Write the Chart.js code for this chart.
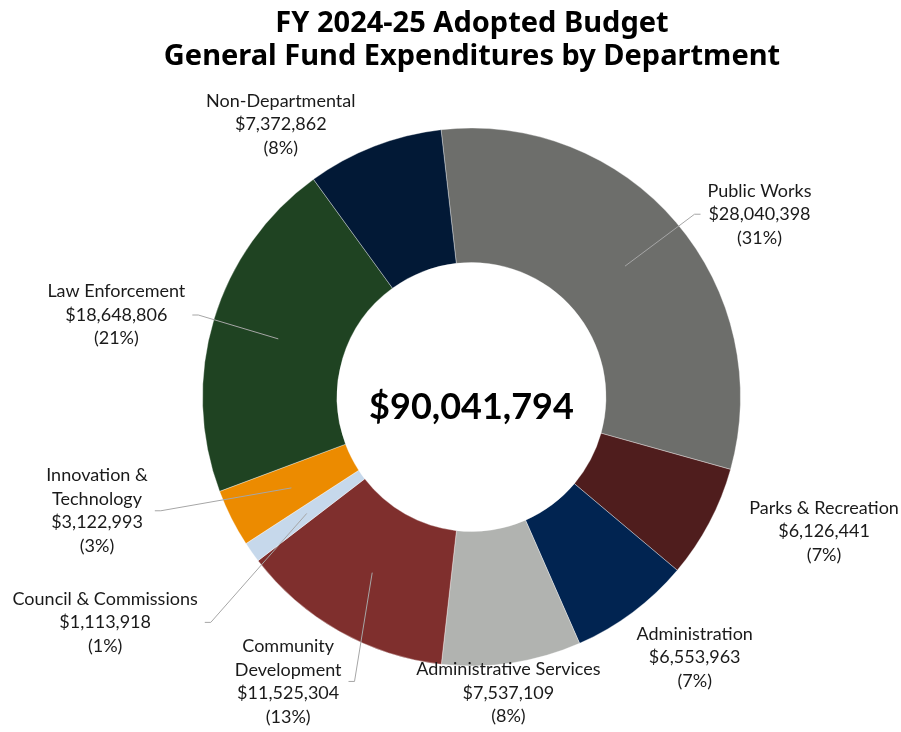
<!DOCTYPE html>
<html>
<head>
<meta charset="utf-8">
<script src="https://cdn.jsdelivr.net/npm/chart.js@4.4.1/dist/chart.umd.min.js"></script>
<style>
  html, body { margin: 0; padding: 0; background: #ffffff; }
  #wrap { width: 901px; height: 732px; position: relative; }
</style>
</head>
<body>
<div id="wrap"><canvas id="budget-chart" width="901" height="732"></canvas></div>
<script>
// chart data, clockwise from the top
const departments = [
  ["Public Works"],
  ["Parks & Recreation"],
  ["Administration"],
  ["Administrative Services"],
  ["Community", "Development"],
  ["Council & Commissions"],
  ["Innovation &", "Technology"],
  ["Law Enforcement"],
  ["Non-Departmental"]
];
const expenditures = [28040398, 6126441, 6553963, 7537109, 11525304, 1113918, 3122993, 18648806, 7372862];
const titleLines = ["FY 2024-25 Adopted Budget", "General Fund Expenditures by Department"];

// styling
const sliceColors = ["#6d6e6b", "#4f1d1d", "#012451", "#b1b3b0", "#7f2f2d", "#c6d8eb", "#ec8b00", "#1f4322", "#021936"];
// label placement: angle clockwise from top (deg) and distance as a multiple of the outer radius
const labelAngle = [57.6, 110.9, 139.4, 172.9, 212.8, 238.4, 253.1, 283.0, 325.0];
const labelDist = [1.268, 1.403, 1.275, 1.109, 1.258, 1.599, 1.455, 1.355, 1.236];
const hasLeader = [true, false, false, false, true, true, true, true, false];

const labelFont = "18px Lato";
const lineHeight = 23.5;

const total = expenditures.reduce((a, b) => a + b, 0);

function formatMoney(value) {
  return "$" + value.toLocaleString("en-US");
}

const sliceLabels = {
  id: "sliceLabels",
  afterDatasetsDraw(chart) {
    const ctx = chart.ctx;
    const arcs = chart.getDatasetMeta(0).data;
    ctx.save();

    // title
    ctx.fillStyle = "#000000";
    ctx.textAlign = "center";
    ctx.textBaseline = "alphabetic";
    ctx.font = "bold 29px 'Noto Sans'";
    ctx.fillText(titleLines[0], 472, 32);
    ctx.fillText(titleLines[1], 472, 65);

    arcs.forEach((arc, i) => {
      const p = arc.getProps(["x", "y", "startAngle", "endAngle", "innerRadius", "outerRadius"], true);
      const ang = (labelAngle[i] - 90) * Math.PI / 180;
      const px = p.x + Math.cos(ang) * p.outerRadius * labelDist[i];
      const py = p.y + Math.sin(ang) * p.outerRadius * labelDist[i];

      const pct = Math.round(expenditures[i] / total * 100);
      const lines = departments[i].concat([formatMoney(expenditures[i]), "(" + pct + "%)"]);

      ctx.font = labelFont;
      const blockWidth = Math.max(...lines.map((t) => ctx.measureText(t).width));

      if (hasLeader[i]) {
        const mid = (p.startAngle + p.endAngle) / 2;
        const rm = (p.innerRadius + p.outerRadius) / 2;
        const sx = p.x + Math.cos(mid) * rm;
        const sy = p.y + Math.sin(mid) * rm;
        const toRight = px > p.x;
        const ex = toRight ? px - blockWidth / 2 - 7 : px + blockWidth / 2 + 7;
        const kx = toRight ? ex - 6 : ex + 6;
        ctx.strokeStyle = "#a6a6a6";
        ctx.lineWidth = 1;
        ctx.beginPath();
        ctx.moveTo(sx, sy);
        ctx.lineTo(kx, py);
        ctx.lineTo(ex, py);
        ctx.stroke();
      }

      ctx.fillStyle = "#1a1a1a";
      ctx.textAlign = "center";
      ctx.textBaseline = "middle";
      lines.forEach((t, k) => {
        ctx.fillText(t, px, py + (k - (lines.length - 1) / 2) * lineHeight);
      });
    });

    // total in the hole
    const c = arcs[0];
    ctx.fillStyle = "#000000";
    ctx.font = "bold 36px Lato";
    ctx.textAlign = "center";
    ctx.textBaseline = "alphabetic";
    ctx.fillText(formatMoney(total), c.x, c.y + 22);

    ctx.restore();
  }
};

const chart = new Chart(document.getElementById("budget-chart").getContext("2d"), {
  type: "doughnut",
  data: {
    labels: departments.map((d) => d.join(" ")),
    datasets: [
      {
        data: expenditures,
        backgroundColor: sliceColors,
        borderColor: "rgba(255, 255, 255, 0.35)",
        borderWidth: 1,
        hoverOffset: 0
      }
    ]
  },
  options: {
    responsive: false,
    animation: false,
    cutout: "50%",
    rotation: -6.5,
    layout: {
      padding: { left: 202, right: 160, top: 127, bottom: 65 }
    },
    plugins: {
      legend: { display: false },
      title: { display: false },
      tooltip: { enabled: false }
    }
  },
  plugins: [sliceLabels]
});
</script>
</body>
</html>
